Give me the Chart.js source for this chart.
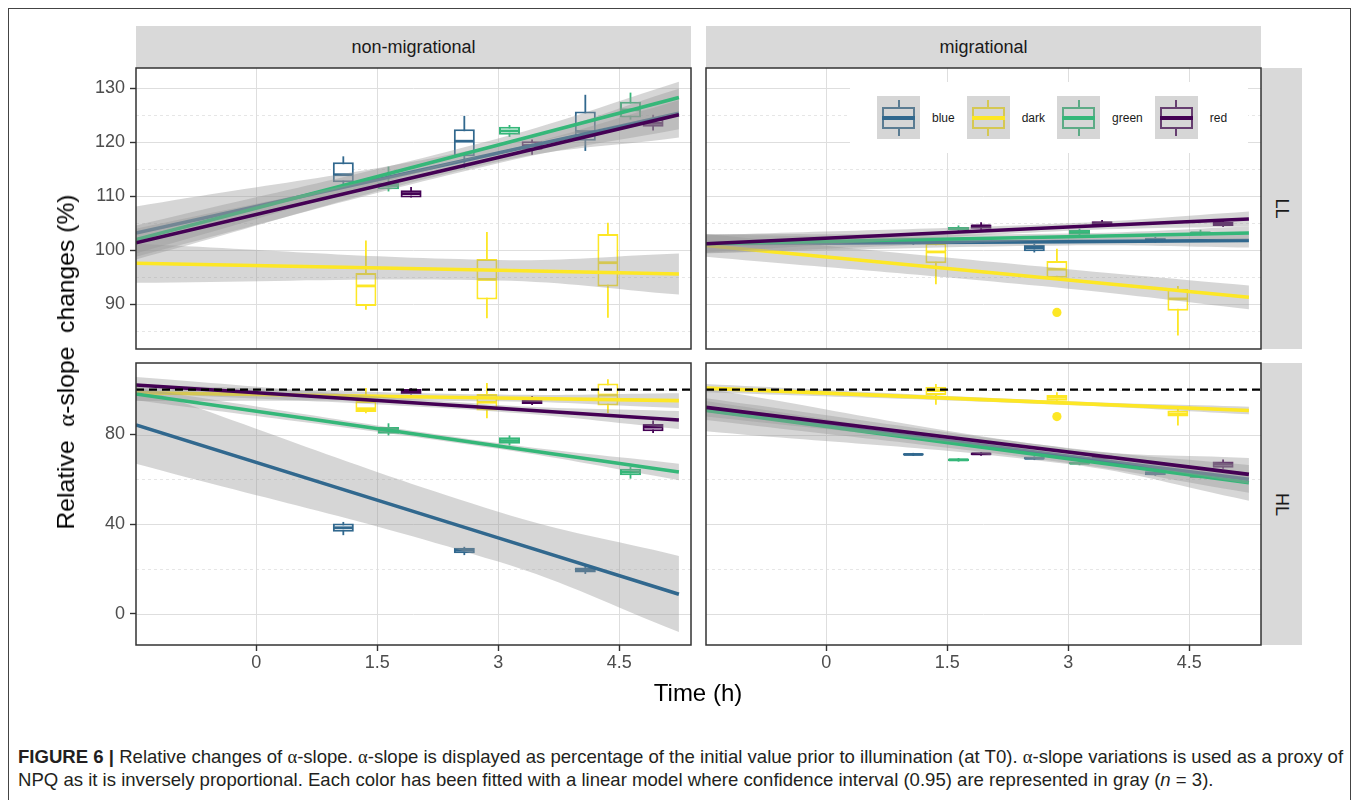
<!DOCTYPE html>
<html>
<head>
<meta charset="utf-8">
<script src="https://cdn.jsdelivr.net/npm/chart.js@4.4.1/dist/chart.umd.min.js"></script>
<style>
html,body{margin:0;padding:0;background:#fff;}
body{width:1360px;height:800px;position:relative;overflow:hidden;font-family:'Liberation Sans',Arial,Helvetica,sans-serif;}
#frame{position:absolute;left:8px;top:8px;width:1343px;height:820px;border:1px solid #444;box-sizing:border-box;}
.strip{position:absolute;background:#d9d9d9;color:#1a1a1a;font-size:18px;display:flex;align-items:center;justify-content:center;}
.rot{display:inline-block;transform:rotate(90deg);white-space:nowrap;}
canvas{position:absolute;}
#legend{position:absolute;left:850px;top:82px;width:398px;height:71px;background:#fff;display:flex;align-items:center;padding-left:27px;box-sizing:border-box;}
.litem{display:flex;align-items:center;margin-right:12px;}
.key{position:relative;width:43px;height:43px;background:#d6d6d6;flex:none;margin-right:12px;}
.wt,.wb{position:absolute;left:20.5px;width:2px;height:7px;}
.wt{top:4px;} .wb{top:33px;}
.bx{position:absolute;left:5px;top:11px;width:33px;height:22px;border:2px solid;box-sizing:border-box;}
.ln{position:absolute;left:5px;top:20px;width:33px;height:3.8px;}
.lab{font-size:12px;color:#1a1a1a;}
.title{position:absolute;color:#000;white-space:nowrap;}
.gr{font-family:'Liberation Serif','DejaVu Serif',serif;}
.cap{position:absolute;left:18px;font-size:19px;line-height:23px;color:#231f20;white-space:nowrap;transform-origin:0 50%;}
</style>
</head>
<body>
<div id="frame"></div>

<div class="strip" style="left:136px;top:26px;width:555px;height:42px;">non-migrational</div>
<div class="strip" style="left:706px;top:26px;width:555px;height:42px;">migrational</div>
<div class="strip" style="left:1261px;top:68px;width:41px;height:281px;"><span class="rot">LL</span></div>
<div class="strip" style="left:1261px;top:363px;width:41px;height:282px;"><span class="rot">HL</span></div>

<canvas id="cTL" width="639" height="285" style="left:54px;top:66px;"></canvas>
<canvas id="cTR" width="559" height="285" style="left:704px;top:66px;"></canvas>
<canvas id="cBL" width="639" height="321" style="left:54px;top:361px;"></canvas>
<canvas id="cBR" width="559" height="321" style="left:704px;top:361px;"></canvas>

<div id="legend"></div>

<div class="title" id="ytitle" style="left:66px;top:362px;font-size:24px;">Relative&nbsp;&nbsp;<span class="gr">α</span>-slope&nbsp;&nbsp;changes (%)</div>
<div class="title" id="xtitle" style="left:698px;top:693px;font-size:24px;transform:translate(-50%,-50%);">Time (h)</div>

<div class="cap" id="cap1" style="top:745px;"><b>FIGURE 6 |</b> Relative changes of <span class="gr">α</span>-slope. <span class="gr">α</span>-slope is displayed as percentage of the initial value prior to illumination (at T0). <span class="gr">α</span>-slope variations is used as a proxy of</div>
<div class="cap" id="cap2" style="top:768px;">NPQ as it is inversely proportional. Each color has been fitted with a linear model where confidence interval (0.95) are represented in gray (<i>n</i> = 3).</div>

<script>
// ---------------- data ----------------
const groups = ['blue', 'dark', 'green', 'red'];
const groupColors = ['#31688E', '#FDE725', '#35B779', '#440154'];
const timePoints = [1.5, 3, 4.5];
const xTicks = [0, 1.5, 3, 4.5];
const xTickLabels = ['0', '1.5', '3', '4.5'];
const xLimits = [-1.49, 5.39];
const yLimitsLL = [81.72, 133.76];
const yLimitsHL = [-13.9, 111.9];
const yTicksLL = [90, 100, 110, 120, 130];
const yMinorLL = [85, 95, 105, 115, 125];
const yTicksHL = [0, 40, 80];
const yMinorHL = [20, 60, 100];
const refLevelHL = 100;
const fitX = [-1.49, 3, 5.24];

// box stats per time point: [min, q1, median, q3, max]
// LL, non-migrational
const boxNmLLBlue  = [[112.0,112.6,114.0,116.3,117.4],[115.2,117.4,120.2,122.4,124.9],[118.4,120.3,122.0,125.7,128.8]];
const boxNmLLDark  = [[89.0,89.7,93.4,95.8,101.8],[87.4,90.9,94.6,98.4,103.4],[87.5,93.3,97.7,103.0,105.1]];
const boxNmLLGreen = [[110.9,111.3,112.0,112.5,115.5],[121.0,121.4,122.1,122.9,123.2],[124.2,124.6,126.0,127.5,129.2]];
const boxNmLLRed   = [[109.8,109.8,110.5,111.1,111.7],[117.7,118.6,119.4,120.2,120.5],[122.2,122.9,123.5,124.2,125.1]];
// LL, migrational
const boxMLLBlue  = [[101.0,101.2,101.5,101.8,102.0],[99.6,99.8,100.5,101.0,101.2],[101.4,101.7,102.0,102.3,102.5]];
const boxMLLDark  = [[93.7,97.6,99.7,101.3,101.9],[94.9,94.9,96.5,98.0,100.3],[84.2,88.8,91.0,92.9,93.4]];
const boxMLLGreen = [[103.5,103.7,104.0,104.3,104.6],[102.7,102.9,103.3,103.8,104.0],[102.7,102.9,103.2,103.5,103.8]];
const boxMLLRed   = [[103.8,104.0,104.5,104.8,105.2],[104.4,104.6,105.0,105.4,105.6],[104.3,104.5,104.9,105.3,105.8]];
const outMLLDark  = [null, 88.5, null];
// HL, non-migrational
const boxNmHLBlue  = [[35.1,36.6,38.4,40.3,41.0],[26.2,27.0,28.4,29.5,29.9],[17.8,18.4,19.6,20.7,21.4]];
const boxNmHLDark  = [[89.5,90.0,91.5,94.9,100.7],[87.3,90.7,94.4,98.1,103.0],[89.6,92.9,97.6,102.8,104.7]];
const boxNmHLGreen = [[79.6,80.3,81.8,83.3,85.0],[75.1,75.9,77.3,78.8,79.6],[60.3,61.8,63.3,64.7,65.5]];
const boxNmHLRed   = [[97.8,98.1,99.1,100.3,100.6],[93.2,93.6,95.1,96.6,97.2],[80.7,81.5,83.3,84.7,86.2]];
// HL, migrational
const boxMHLBlue  = [[70.4,70.6,71.1,71.6,71.8],[68.6,68.8,69.4,70.1,70.3],[61.6,61.8,62.7,63.6,63.8]];
const boxMHLDark  = [[93.3,97.6,99.6,101.3,102.5],[95.1,95.1,96.6,97.6,98.8],[84.0,88.0,89.2,90.7,91.4]];
const boxMHLGreen = [[67.9,68.1,68.7,69.3,69.5],[66.3,66.6,67.2,67.9,68.1],[60.4,60.6,61.5,62.4,62.6]];
const boxMHLRed   = [[70.5,70.7,71.4,72.0,72.2],[68.7,68.9,69.8,70.6,70.9],[64.7,65.2,66.7,68.0,68.9]];
const outMHLDark  = [null, 88.0, null];

// linear fits at fitX, with 95% CI bounds
const fitNmLLBlue = [103.2,118.0,125.4], loNmLLBlue = [98.3,116.4,120.9], hiNmLLBlue = [108.1,119.6,129.9];
const fitNmLLDark = [97.6,96.3,95.6],    loNmLLDark = [94.0,94.4,91.8],   hiNmLLDark = [101.2,98.2,99.4];
const fitNmLLGreen = [102.0,119.5,128.3], loNmLLGreen = [99.4,118.3,125.4], hiNmLLGreen = [104.6,120.7,131.2];
const fitNmLLRed = [101.4,117.2,125.1],  loNmLLRed = [98.8,116.1,122.4],  hiNmLLRed = [104.0,118.3,127.8];

const fitMLLBlue = [101.2,101.6,101.8],  loMLLBlue = [99.5,100.9,100.5],  hiMLLBlue = [102.9,102.3,103.1];
const fitMLLDark = [100.9,94.5,91.3],    loMLLDark = [98.8,92.9,89.1],    hiMLLDark = [103.0,96.5,93.5];
const fitMLLGreen = [101.2,102.5,103.2], loMLLGreen = [99.4,101.9,102.0], hiMLLGreen = [103.0,103.1,104.4];
const fitMLLRed = [101.2,104.3,105.8],   loMLLRed = [99.6,103.6,104.4],   hiMLLRed = [102.8,105.0,107.2];

const fitNmHLBlue = [84.3,33.9,8.7],     loNmHLBlue = [67.0,23.3,-8.1],   hiNmHLBlue = [101.6,45.5,25.8];
const fitNmHLDark = [98.6,96.3,95.1],    loNmHLDark = [95.0,94.8,91.8],   hiNmHLDark = [102.2,97.8,98.4];
const fitNmHLGreen = [98.1,74.9,63.3],   loNmHLGreen = [95.3,73.6,59.6],  hiNmHLGreen = [100.9,76.2,67.0];
const fitNmHLRed = [102.1,91.7,86.5],    loNmHLRed = [98.6,90.2,82.5],    hiNmHLRed = [105.6,93.2,90.5];

const fitMHLBlue = [91.0,70.3,60.0],     loMHLBlue = [81.5,66.8,50.5],    hiMHLBlue = [100.5,73.8,69.5];
const fitMHLDark = [100.7,94.0,90.7],    loMHLDark = [98.9,93.2,89.0],    hiMHLDark = [102.5,94.8,92.4];
const fitMHLGreen = [90.7,69.2,58.5],    loMHLGreen = [86.5,67.3,54.0],   hiMHLGreen = [94.9,71.1,63.0];
const fitMHLRed = [92.1,72.2,62.2],      loMHLRed = [88.0,70.4,58.0],     hiMHLRed = [96.2,74.0,66.4];

// ---------------- style / layout ----------------
const dodgeOffsets = [-0.42, -0.14, 0.14, 0.42];
const BOX_W = 21, BOX_LW = 2, WHISKER_W = 1.8, MED_LW = 2.8, FIT_LW = 3.6;
const RIBBON = 'rgba(153,153,153,0.4)';
const TICK_FONT = 18;

Chart.defaults.font.family = "'Liberation Sans', Arial, Helvetica, sans-serif";
Chart.defaults.font.size = TICK_FONT;

const panelGrid = {
  id: 'panelGrid',
  beforeDatasetsDraw(chart, args, opts) {
    const {ctx, chartArea: a, scales: {x, y}} = chart;
    ctx.save();
    ctx.lineWidth = 1;
    ctx.strokeStyle = '#e6e6e6';
    ctx.setLineDash([3, 3]);
    opts.yMinor.forEach(v => {
      const py = Math.round(y.getPixelForValue(v)) + 0.5;
      ctx.beginPath(); ctx.moveTo(a.left, py); ctx.lineTo(a.right, py); ctx.stroke();
    });
    ctx.setLineDash([]);
    ctx.strokeStyle = '#dedede';
    opts.yMajor.forEach(v => {
      const py = Math.round(y.getPixelForValue(v)) + 0.5;
      ctx.beginPath(); ctx.moveTo(a.left, py); ctx.lineTo(a.right, py); ctx.stroke();
    });
    opts.xMajor.forEach(v => {
      const px = Math.round(x.getPixelForValue(v)) + 0.5;
      ctx.beginPath(); ctx.moveTo(px, a.top); ctx.lineTo(px, a.bottom); ctx.stroke();
    });
    ctx.restore();
  },
  afterDatasetsDraw(chart) {
    const {ctx, chartArea: a} = chart;
    ctx.save();
    ctx.lineWidth = 1.5;
    ctx.strokeStyle = '#333333';
    ctx.strokeRect(a.left, a.top, a.right - a.left, a.bottom - a.top);
    ctx.restore();
  }
};

function panelDatasets(s) {
  const ds = [];
  const xOf = (gi, ti) => timePoints[ti] + dodgeOffsets[gi];
  s.boxes.forEach((b, gi) => ds.push({
    type: 'bar', data: b.map((q, ti) => ({x: xOf(gi, ti), y: [q[0], q[4]]})),
    backgroundColor: groupColors[gi], borderWidth: 0, barThickness: WHISKER_W, grouped: false, inflateAmount: 0
  }));
  s.boxes.forEach((b, gi) => ds.push({
    type: 'bar', data: b.map((q, ti) => ({x: xOf(gi, ti), y: [q[1], q[3]]})),
    backgroundColor: '#ffffff', borderColor: groupColors[gi], borderWidth: BOX_LW, borderSkipped: false,
    barThickness: BOX_W, grouped: false, inflateAmount: 0
  }));
  s.boxes.forEach((b, gi) => ds.push({
    type: 'scatter', data: b.map((q, ti) => ({x: xOf(gi, ti), y: q[2]})),
    pointStyle: 'line', pointRadius: BOX_W / 2 - 1, pointBorderColor: groupColors[gi],
    pointBorderWidth: MED_LW, showLine: false
  }));
  s.outliers.forEach((o, gi) => {
    if (!o) return;
    const pts = [];
    o.forEach((v, ti) => { if (v != null) pts.push({x: xOf(gi, ti), y: v}); });
    ds.push({type: 'scatter', data: pts, pointStyle: 'circle', pointRadius: 4.6,
      pointBackgroundColor: groupColors[gi], pointBorderColor: groupColors[gi], pointBorderWidth: 0, showLine: false});
  });
  s.fits.forEach((f, gi) => {
    const lowIdx = ds.length;
    ds.push({type: 'line', data: fitX.map((x, i) => ({x, y: s.lo[gi][i]})),
      borderWidth: 0, borderColor: 'transparent', pointRadius: 0, tension: 0.4, fill: false});
    ds.push({type: 'line', data: fitX.map((x, i) => ({x, y: s.hi[gi][i]})),
      borderWidth: 0, borderColor: 'transparent', pointRadius: 0, tension: 0.4, fill: lowIdx, backgroundColor: RIBBON});
    ds.push({type: 'line', data: fitX.map((x, i) => ({x, y: f[i]})),
      borderColor: groupColors[gi], borderWidth: FIT_LW, pointRadius: 0, tension: 0, fill: false});
  });
  if (s.ref != null) {
    ds.push({type: 'line', data: xLimits.map(x => ({x, y: s.ref})), borderColor: '#000000',
      borderWidth: 2.2, borderDash: [8, 5], pointRadius: 0, fill: false});
  }
  ds.forEach((d, i) => { d.order = ds.length - i; });
  return ds;
}

function makePanel(id, s) {
  new Chart(document.getElementById(id), {
    type: 'line',
    data: {datasets: panelDatasets(s)},
    options: {
      responsive: false, animation: false, events: [],
      layout: {padding: 2, autoPadding: false},
      plugins: {legend: {display: false}, tooltip: {enabled: false},
        panelGrid: {yMajor: s.yTicks, yMinor: s.yMinor, xMajor: xTicks}},
      scales: {
        x: {
          type: 'linear', min: xLimits[0], max: xLimits[1], bounds: 'data', offset: false, display: s.showX,
          grid: {drawOnChartArea: false, drawTicks: true, tickLength: 6, tickWidth: 1.4, tickColor: '#333333', offset: false},
          border: {display: false},
          ticks: {color: '#4d4d4d', padding: 1, maxRotation: 0, autoSkip: false,
            callback: (v, i) => xTickLabels[i]},
          afterBuildTicks: sc => { sc.ticks = xTicks.map(v => ({value: v})); },
          afterFit: sc => { sc.height = s.showX ? 35 : 0; sc.paddingLeft = 0; sc.paddingRight = 0; }
        },
        y: {
          type: 'linear', min: s.yLimits[0], max: s.yLimits[1], bounds: 'data', beginAtZero: false, display: s.showY,
          grid: {drawOnChartArea: false, drawTicks: true, tickLength: 6, tickWidth: 1.4, tickColor: '#333333'},
          border: {display: false},
          ticks: {color: '#4d4d4d', padding: 5, autoSkip: false, callback: v => String(v)},
          afterBuildTicks: sc => { sc.ticks = s.yTicks.map(v => ({value: v})); },
          afterFit: sc => { sc.width = s.showY ? 80 : 0; sc.paddingTop = 0; sc.paddingBottom = 0; }
        }
      }
    },
    plugins: [panelGrid]
  });
}

makePanel('cTL', {
  boxes: [boxNmLLBlue, boxNmLLDark, boxNmLLGreen, boxNmLLRed], outliers: [null, null, null, null],
  fits: [fitNmLLBlue, fitNmLLDark, fitNmLLGreen, fitNmLLRed],
  lo: [loNmLLBlue, loNmLLDark, loNmLLGreen, loNmLLRed], hi: [hiNmLLBlue, hiNmLLDark, hiNmLLGreen, hiNmLLRed],
  yLimits: yLimitsLL, yTicks: yTicksLL, yMinor: yMinorLL, showX: false, showY: true, ref: null
});
makePanel('cTR', {
  boxes: [boxMLLBlue, boxMLLDark, boxMLLGreen, boxMLLRed], outliers: [null, outMLLDark, null, null],
  fits: [fitMLLBlue, fitMLLDark, fitMLLGreen, fitMLLRed],
  lo: [loMLLBlue, loMLLDark, loMLLGreen, loMLLRed], hi: [hiMLLBlue, hiMLLDark, hiMLLGreen, hiMLLRed],
  yLimits: yLimitsLL, yTicks: yTicksLL, yMinor: yMinorLL, showX: false, showY: false, ref: null
});
makePanel('cBL', {
  boxes: [boxNmHLBlue, boxNmHLDark, boxNmHLGreen, boxNmHLRed], outliers: [null, null, null, null],
  fits: [fitNmHLBlue, fitNmHLDark, fitNmHLGreen, fitNmHLRed],
  lo: [loNmHLBlue, loNmHLDark, loNmHLGreen, loNmHLRed], hi: [hiNmHLBlue, hiNmHLDark, hiNmHLGreen, hiNmHLRed],
  yLimits: yLimitsHL, yTicks: yTicksHL, yMinor: yMinorHL, showX: true, showY: true, ref: refLevelHL
});
makePanel('cBR', {
  boxes: [boxMHLBlue, boxMHLDark, boxMHLGreen, boxMHLRed], outliers: [null, outMHLDark, null, null],
  fits: [fitMHLBlue, fitMHLDark, fitMHLGreen, fitMHLRed],
  lo: [loMHLBlue, loMHLDark, loMHLGreen, loMHLRed], hi: [hiMHLBlue, hiMHLDark, hiMHLGreen, hiMHLRed],
  yLimits: yLimitsHL, yTicks: yTicksHL, yMinor: yMinorHL, showX: true, showY: false, ref: refLevelHL
});

// ---------------- legend ----------------
function muted(hex) {
  const n = parseInt(hex.slice(1), 16);
  const c = [(n >> 16) & 255, (n >> 8) & 255, n & 255].map(v => Math.round(v * 0.6 + 153 * 0.4));
  return 'rgb(' + c.join(',') + ')';
}
const legendEl = document.getElementById('legend');
groups.forEach((g, gi) => {
  const item = document.createElement('div'); item.className = 'litem';
  const key = document.createElement('div'); key.className = 'key';
  const m = muted(groupColors[gi]);
  key.innerHTML = '<div class="wt" style="background:' + m + '"></div><div class="wb" style="background:' + m +
    '"></div><div class="bx" style="border-color:' + m + '"></div><div class="ln" style="background:' + groupColors[gi] + '"></div>';
  const lab = document.createElement('span'); lab.className = 'lab'; lab.textContent = g;
  item.appendChild(key); item.appendChild(lab); legendEl.appendChild(item);
});

// ---------------- text fitting ----------------
const yt = document.getElementById('ytitle');
const ytw = yt.offsetWidth;
yt.style.transform = 'translate(-50%,-50%) rotate(-90deg) scaleX(' + (335 / ytw) + ')';
const c1 = document.getElementById('cap1'), c2 = document.getElementById('cap2');
const k = 1325 / c1.offsetWidth;
c1.style.transform = 'scaleX(' + k + ')';
c2.style.transform = 'scaleX(' + k + ')';
</script>
</body>
</html>
